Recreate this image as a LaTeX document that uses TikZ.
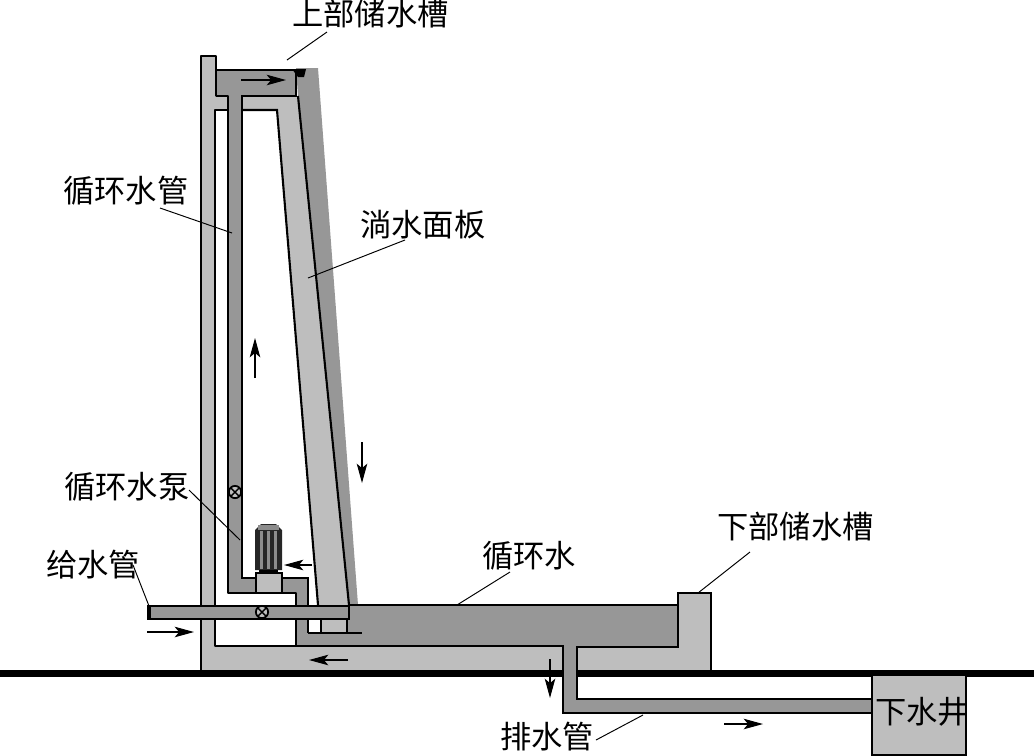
\documentclass[tikz,border=0pt]{standalone}
\usepackage{fontspec}
\setmainfont{Noto Sans CJK SC}
\usetikzlibrary{arrows.meta}
\definecolor{lightg}{HTML}{BEBEBE}
\definecolor{darkg}{HTML}{979797}
\tikzset{
 lab/.style={inner sep=0pt,font=\fontsize{17.8}{18}\selectfont,text=black},
 lead/.style={draw=black,line width=0.55pt},
 edge/.style={draw=black,line width=1.2pt},
 flow/.style={draw=black,line width=0.6pt,-{Stealth[length=11pt,width=6pt,inset=2.5pt]}},
 valve/.style={circle,draw=black,line width=1pt,fill=lightg,minimum size=7pt,inner sep=0pt}
}
\begin{document}
\begin{tikzpicture}[x=0.02cm,y=-0.02cm]
\useasboundingbox (0,0) rectangle (1034,755);
% light structure
\fill[lightg] (214,97) -- (298,97) -- (349,605) -- (318,605) -- (277,110) -- (214,110) -- cycle;
\fill[lightg] (201,56) rectangle (215,670);
\fill[lightg] (201,646) rectangle (711,670);
\fill[lightg] (678,593) rectangle (711,670);
\fill[lightg] (321,619) rectangle (347,633);
% dark water
\fill[darkg] (216,70) -- (296,70) -- (296,96) -- (216,96) -- cycle;
\fill[darkg] (296,68) -- (318,68) -- (358,605) -- (349,605) -- (298,96) -- cycle;
\fill[darkg] (228,96) rectangle (242,593);
\fill[darkg] (228,578) rectangle (308,593);
\fill[darkg] (296,593) rectangle (308,646);
\fill[darkg] (296,633) rectangle (349,646);
\fill[darkg] (347,605) rectangle (678,647);
% ground
\fill[black] (0,670) rectangle (1034,677);
\fill[darkg] (563,647) rectangle (577,713);
\fill[darkg] (563,699) rectangle (873,713);
% outlines
\draw[edge,line join=round] (201,670) -- (201,56) -- (216,56) -- (216,96) -- (228,96) -- (228,593) -- (296,593) -- (296,646) -- (215,646) -- (215,110) -- (228,110);
\draw[edge] (216,70) -- (296,70) -- (296,96) -- (242,96) -- (242,578) -- (308,578) -- (308,633);
\draw[edge] (242,110) -- (277,110) -- (318,605);
\draw[edge] (298,96) -- (349,605);
\draw[edge] (296,646) -- (563,646) -- (563,713) -- (873,713);
\draw[edge] (308,633) -- (362,633);
\draw[edge] (321,619) -- (321,633);
\draw[edge] (347,619) -- (347,633);
\draw[edge] (349,605) -- (678,605) -- (678,593) -- (711,593) -- (711,670);
\draw[edge] (678,605) -- (678,647) -- (577,647) -- (577,699) -- (873,699);
\fill[black] (292,69) -- (306,69) -- (304,77) -- (298,77) -- cycle;
% feed pipe
\draw[edge,fill=darkg] (148,606) rectangle (349,619);
\fill[black] (148,606) rectangle (151,619);
% well
\draw[draw=black,line width=1.2pt,fill=lightg] (872,675) -- (966,675) -- (966,755) -- (872,755) -- cycle;
% pump
\draw[edge,fill=lightg] (256,573) rectangle (282,593);
\fill[black!85] (255,530) -- (261,524) -- (276,524) -- (282,530) -- (282,570) -- (255,570) -- cycle;
\fill[black!45] (258,525) rectangle (279,530);
\foreach \sx in {261,268,275}{\fill[black!45] (\sx-1.5,531) rectangle (\sx+1.5,569);}
\fill[black] (259,570) rectangle (278,573);
\node[valve] (v1) at (235,492) {};
\node[valve] (v2) at (262,612) {};
\foreach \vn in {v1,v2}{\draw[line width=0.8pt] ([shift={(-4,-4)}]\vn.center) -- ([shift={(4,4)}]\vn.center) ([shift={(-4,4)}]\vn.center) -- ([shift={(4,-4)}]\vn.center);}
% flow arrows
\coordinate (a1s) at (241,80); \coordinate (a1e) at (286,80);
\coordinate (a2s) at (255,378); \coordinate (a2e) at (255,338);
\coordinate (a3s) at (362,442); \coordinate (a3e) at (362,483);
\coordinate (a4s) at (312,565); \coordinate (a4e) at (284,565);
\coordinate (a5s) at (147,632); \coordinate (a5e) at (194,632);
\coordinate (a6s) at (348,660); \coordinate (a6e) at (309,660);
\coordinate (a7s) at (550,659); \coordinate (a7e) at (550,698);
\coordinate (a8s) at (724,724); \coordinate (a8e) at (763,724);
\foreach \an in {1,...,8}{\draw[flow] (a\an s) -- (a\an e);}
% labels
\node[lab,anchor=west] (top) at (292,14) {上部储水槽};
\node[lab,anchor=west] (pipe) at (63,191) {循环水管};
\node[lab,anchor=west] (panel) at (360,225) {淌水面板};
\node[lab,anchor=west] (pump) at (64,487) {循环水泵};
\node[lab,anchor=west] (feed) at (46,565) {给水管};
\node[lab,anchor=west] (water) at (482,556) {循环水};
\node[lab,anchor=west] (lower) at (717,527) {下部储水槽};
\node[lab,anchor=west] (drain) at (500,737) {排水管};
\node[lab,anchor=west] (wellt) at (875,712) {下水井};
% leaders
\coordinate (e1) at (287,60); \coordinate (s1) at (327,32);
\coordinate (e2) at (232,233); \coordinate (s2) at (160,208);
\coordinate (e3) at (308,278); \coordinate (s3) at (405,240);
\coordinate (e4) at (240,540); \coordinate (s4) at (189,490);
\coordinate (e5) at (149,606); \coordinate (s5) at (133,565);
\coordinate (e6) at (457,605); \coordinate (s6) at (510,572);
\coordinate (e7) at (698,593); \coordinate (s7) at (750,552);
\coordinate (e8) at (643,715); \coordinate (s8) at (596,740);
\foreach \ln in {1,...,8}{\draw[lead] (s\ln) -- (e\ln);}
\end{tikzpicture}
\end{document}
